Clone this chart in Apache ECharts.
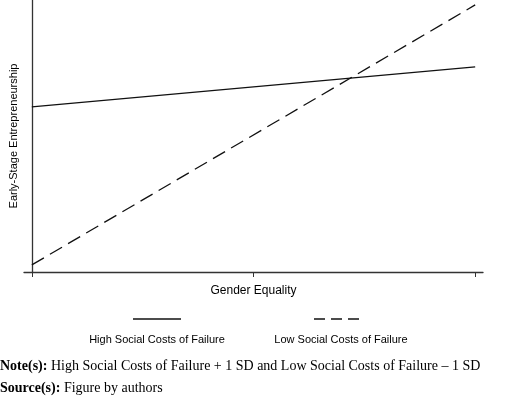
<!DOCTYPE html>
<html><head><meta charset="utf-8">
<script src="https://cdn.jsdelivr.net/npm/echarts@6/dist/echarts.min.js"></script>
<style>html,body{margin:0;padding:0;background:#fff}#c{width:520px;height:400px}</style>
</head><body><div id="c"></div>
<script>
const xValues = [0, 2];
const highCosts = [60.7, 75.4];
const lowCosts = [2.6, 98.2];
const xTicks = [0, 1, 2];
const seriesNames = ['High Social Costs of Failure', 'Low Social Costs of Failure'];

const chart = echarts.init(document.getElementById('c'));
const ff = 'Liberation Sans, Arial, sans-serif';
chart.setOption({
  animation: false,
  grid: {left: 14, right: 37, top: 0, bottom: 128},
  xAxis: {type: 'value', min: -0.0353, max: 2.0353, name: 'Gender Equality',
    nameLocation: 'middle', nameGap: 13, nameTextStyle: {fontFamily: ff, fontSize: 12, color: '#000'},
    axisLine: {lineStyle: {color: '#333', width: 1.3}},
    axisTick: {show: true, customValues: xTicks, length: 5, lineStyle: {color: '#333'}},
    axisLabel: {show: false}, splitLine: {show: false}},
  yAxis: {type: 'value', min: 0, max: 100, name: 'Early-Stage Entrepreneurship',
    nameLocation: 'middle', nameGap: 5, nameTextStyle: {fontFamily: ff, fontSize: 11, color: '#000'},
    axisLine: {show: true, lineStyle: {color: '#333', width: 1.3}},
    axisTick: {show: false}, axisLabel: {show: false}, splitLine: {show: false}},
  series: [
    {name: seriesNames[0], type: 'line', showSymbol: false, data: xValues.map((x, i) => [x, highCosts[i]]),
      lineStyle: {color: '#111', width: 1.3, type: 'solid'}},
    {name: seriesNames[1], type: 'line', showSymbol: false, data: xValues.map((x, i) => [x, lowCosts[i]]),
      lineStyle: {color: '#111', width: 1.3, type: [14, 7]}}
  ],
  graphic: [
    {type: 'line', shape: {x1: 133, y1: 319, x2: 181, y2: 319}, style: {stroke: '#111', lineWidth: 1.3}},
    {type: 'line', shape: {x1: 314, y1: 319, x2: 363, y2: 319}, style: {stroke: '#111', lineWidth: 1.3, lineDash: [11, 6]}},
    {type: 'text', x: 157, y: 340, style: {text: seriesNames[0], font: '11px ' + ff, fill: '#000', align: 'center', verticalAlign: 'middle'}},
    {type: 'text', x: 341, y: 340, style: {text: seriesNames[1], font: '11px ' + ff, fill: '#000', align: 'center', verticalAlign: 'middle'}},
    {type: 'text', x: 0, y: 366, style: {text: '{b|Note(s):} High Social Costs of Failure + 1 SD and Low Social Costs of Failure – 1 SD',
      font: '14px Liberation Serif', fill: '#000', verticalAlign: 'middle',
      rich: {b: {fontWeight: 'bold', fontFamily: 'Liberation Serif', fontSize: 14}}}},
    {type: 'text', x: 0, y: 388, style: {text: '{b|Source(s):} Figure by authors',
      font: '14px Liberation Serif', fill: '#000', verticalAlign: 'middle',
      rich: {b: {fontWeight: 'bold', fontFamily: 'Liberation Serif', fontSize: 14}}}}
  ]
});
</script></body></html>
